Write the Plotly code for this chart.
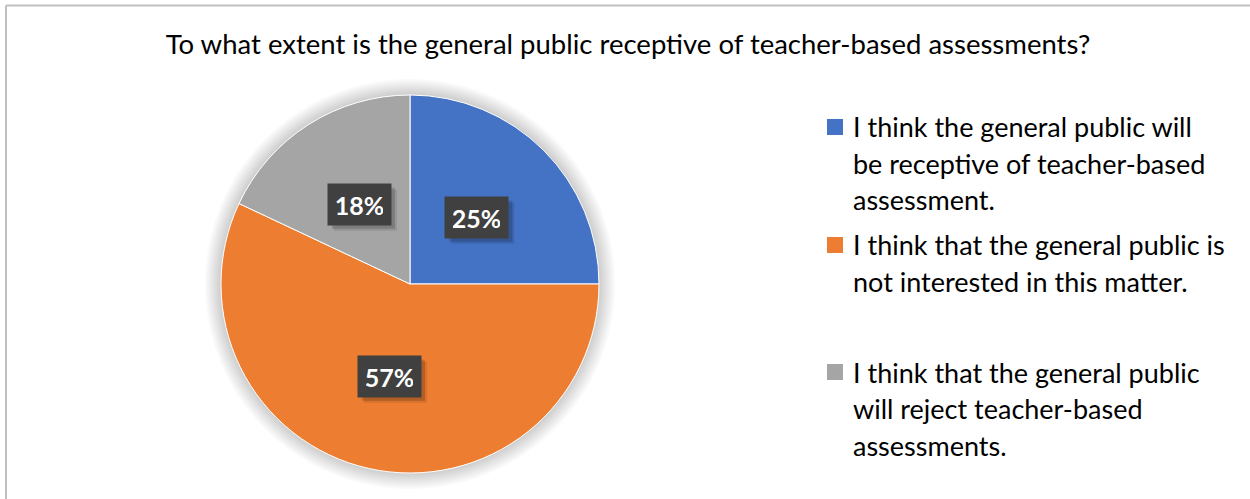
import math
import plotly.graph_objects as go

# ---- data -------------------------------------------------------------
categories = [
    "I think the general public will be receptive of teacher-based assessment.",
    "I think that the general public is not interested in this matter.",
    "I think that the general public will reject teacher-based assessments.",
]
legend_lines = [
    ["I think the general public will", "be receptive of teacher-based", "assessment."],
    ["I think that the general public is", "not interested in this matter."],
    ["I think that the general public", "will reject teacher-based", "assessments."],
]
shares = [25, 57, 18]
colors = ["#4472C4", "#ED7D31", "#A5A5A5"]
title_text = "To what extent is the general public receptive of teacher-based assessments?"

# ---- canvas geometry (pixels) ----------------------------------------
W, H = 1250, 499
CX, CY, R = 410, 284, 189
FONT = "Lato"
BOX_W, BOX_H = 63, 41


def px(x):
    return x / W


def py(y):
    return 1 - y / H


fig = go.Figure()

fig.add_trace(go.Pie(
    labels=categories,
    values=shares,
    sort=False,
    direction="clockwise",
    rotation=0,
    marker=dict(colors=colors, line=dict(color="white", width=1)),
    textinfo="none",
    hoverinfo="label+percent",
    showlegend=False,
    domain=dict(x=[px(CX - R), px(CX + R)], y=[py(CY + R), py(CY - R)]),
))

shapes = []
# soft glow around the pie
for k in range(1, 9):
    rr = R + 2 * k
    shapes.append(dict(
        type="circle", xref="paper", yref="paper", layer="below",
        x0=px(CX - rr), x1=px(CX + rr), y0=py(CY + rr), y1=py(CY - rr),
        fillcolor="rgba(0,0,0,0.022)", line=dict(width=0),
    ))

# chart-area frame (top and left edges)
shapes.append(dict(type="line", xref="paper", yref="paper",
                   x0=px(6), x1=1.0, y0=py(5.5), y1=py(5.5),
                   line=dict(color="#BFBFBF", width=2)))
shapes.append(dict(type="line", xref="paper", yref="paper",
                   x0=px(6), x1=px(6), y0=py(5.5), y1=0.0,
                   line=dict(color="#BFBFBF", width=2)))

annotations = []

# data labels in dark boxes, placed at each slice's mid-angle
total = sum(shares)
cum = 0
for v in shares:
    mid = (cum + v / 2) / total
    cum += v
    ang = 2 * math.pi * mid
    lx = CX + 0.5 * R * math.sin(ang)
    ly = CY - 0.5 * R * math.cos(ang)
    txt = f"{round(100 * v / total)}%"
    # drop shadow behind the label box
    for off, alpha in [(6, 0.10), (4, 0.16)]:
        shapes.append(dict(
            type="rect", xref="paper", yref="paper", layer="above",
            x0=px(lx - BOX_W / 2 + off), x1=px(lx + BOX_W / 2 + off),
            y0=py(ly + BOX_H / 2 + off), y1=py(ly - BOX_H / 2 + off),
            fillcolor=f"rgba(0,0,0,{alpha})", line=dict(width=0),
        ))
    annotations.append(dict(
        x=px(lx), y=py(ly), xref="paper", yref="paper", showarrow=False,
        xanchor="center", yanchor="middle",
        text=f"<b>{txt}</b>", width=BOX_W - 16, height=BOX_H - 16, borderpad=8,
        bgcolor="#404040",
        font=dict(family=FONT, size=25, color="white"),
    ))

# legend: colour squares plus wrapped entry text
entry_tops = [127, 245, 372]
line_step = 36.5
for lines, col, y0 in zip(legend_lines, colors, entry_tops):
    shapes.append(dict(
        type="rect", xref="paper", yref="paper",
        x0=px(827), x1=px(843), y0=py(y0 + 8), y1=py(y0 - 8),
        fillcolor=col, line=dict(width=0),
    ))
    for i, ln in enumerate(lines):
        annotations.append(dict(
            x=px(851), y=py(y0 + i * line_step), xref="paper", yref="paper",
            xanchor="left", yanchor="middle", showarrow=False,
            text=ln, font=dict(family=FONT, size=27, color="#000000"),
        ))

fig.update_layout(
    width=W, height=H,
    margin=dict(l=0, r=0, t=0, b=0),
    paper_bgcolor="white",
    plot_bgcolor="white",
    title=dict(text=title_text, x=px(628), xanchor="center",
               y=py(44), yanchor="middle",
               font=dict(family=FONT, size=27.5, color="#000000")),
    shapes=shapes,
    annotations=annotations,
)

fig.write_html("out.html")
